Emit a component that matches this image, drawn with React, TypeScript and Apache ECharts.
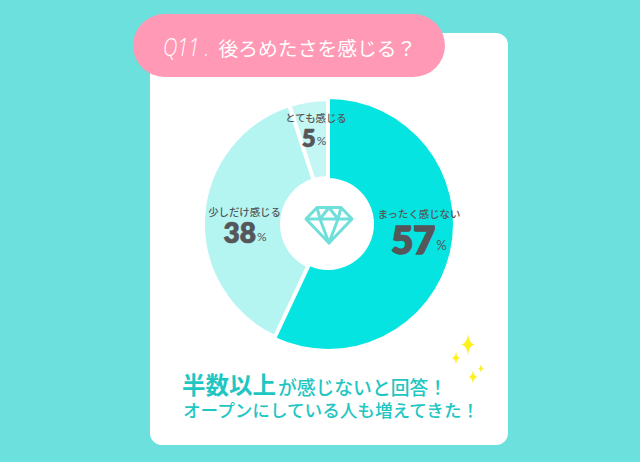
import React, { useEffect, useRef } from "react";
import * as echarts from "echarts";

const categories = ["まったく感じない", "少しだけ感じる", "とても感じる"];
const values = [57, 38, 5];
const sliceColors = ["#05e4e0", "#b4f5f2", "#c4f6f4"];
const titleQ = "Q11 .";
const titleText = "後ろめたさを感じる？";
const strong = "半数以上";
const line1 = "が感じないと回答！";
const line2 = "オープンにしている人も増えてきた！";

const CJK = '"Noto Sans CJK JP", "Noto Sans", sans-serif';
const DARK = "#55565a";
const TEAL = "#1fc6c2";

echarts.graphic.registerShape(
  "spark",
  echarts.graphic.extendPath(
    "M0 -10 C1 -3 3 -1 6.5 0 C3 1 1 3 0 10 C-1 3 -3 1 -6.5 0 C-3 -1 -1 -3 0 -10 Z",
    {}
  )
);

const labelPos = [
  { cx: 419, tx: 419, ty: 213, ny: 239, ns: 38, ps: 13, b: 1.4 },
  { cx: 245, tx: 244.5, ty: 211, ny: 232, ns: 28, ps: 12, b: 0.7 },
  { cx: 314, tx: 316, ty: 117, ny: 137, ns: 24, ps: 12, b: 0.6 },
];

function dataLabels() {
  const out: any[] = [];
  categories.forEach((c, i) => {
    const p = labelPos[i];
    out.push({
      type: "text",
      z: 10,
      style: {
        text: c,
        x: p.tx,
        y: p.ty,
        align: "center",
        verticalAlign: "middle",
        font: `500 10.4px ${CJK}`,
        fill: DARK,
      },
    });
    out.push({
      type: "text",
      z: 10,
      style: {
        text: `{n|${values[i]}}{p|%}`,
        x: p.cx,
        y: p.ny,
        align: "center",
        verticalAlign: "middle",
        rich: {
          n: {
            fontFamily: "Lato",
            fontWeight: 800,
            fontSize: p.ns,
            fill: DARK,
            stroke: DARK,
            lineWidth: p.b,
          },
          p: { fontFamily: "Lato", fontSize: p.ps, fill: DARK, padding: [p.ns * 0.3, 0, 0, 1] },
        },
      },
    });
  });
  return out;
}

export default function App() {
  const ref = useRef<HTMLDivElement>(null);
  useEffect(() => {
    document.body.style.margin = "0";
    const chart = echarts.init(ref.current!, null, { renderer: "svg" });
    const gemStyle = { stroke: "#6fdfda", lineWidth: 3, fill: "none", lineJoin: "round" };
    chart.setOption({
      animation: false,
      backgroundColor: "#6be0dc",
      series: [
        {
          type: "pie",
          center: [328, 224],
          radius: [46, 125],
          startAngle: 90,
          clockwise: true,
          silent: true,
          label: { show: false },
          labelLine: { show: false },
          z: 5,
          data: values.map((v, i) => ({
            name: categories[i],
            value: v,
            itemStyle: {
              color: sliceColors[i],
              borderColor: "#ffffff",
              borderWidth: i === 0 ? 0 : 4,
            },
          })),
        },
      ],
      graphic: {
        elements: [
          { type: "rect", z: -10, shape: { x: 150, y: 33, width: 358, height: 412, r: 12 }, style: { fill: "#ffffff" } },
          { type: "rect", z: -5, shape: { x: 133, y: 14, width: 312, height: 63, r: 31.5 }, style: { fill: "#ff99b5" } },
          {
            type: "text",
            z: 10,
            x: 163,
            y: 47,
            scaleX: 0.8,
            style: { text: titleQ, verticalAlign: "middle", font: `italic 300 25px "Open Sans", sans-serif`, fill: "#ffffff" },
          },
          {
            type: "text",
            z: 10,
            style: { text: titleText, x: 218.5, y: 47, verticalAlign: "middle", font: `400 19.8px ${CJK}`, fill: "#ffffff" },
          },
          ...dataLabels(),
          // diamond icon
          { type: "polygon", z: 10, shape: { points: [[317, 207.5], [341, 207.5], [352, 219], [329, 243], [306, 219]] }, style: gemStyle },
          { type: "polyline", z: 10, shape: { points: [[306, 219], [352, 219]] }, style: gemStyle },
          { type: "polyline", z: 10, shape: { points: [[317, 207.5], [320, 219], [329, 243], [338, 219], [341, 207.5]] }, style: gemStyle },
          { type: "polyline", z: 10, shape: { points: [[320, 219], [329, 207.5], [338, 219]] }, style: gemStyle },
          // sparkles
          { type: "spark", z: 10, x: 468, y: 344.5, scaleX: 1.05, scaleY: 1.05, style: { fill: "#fff11e" } },
          { type: "spark", z: 10, x: 456, y: 358, scaleX: 0.65, scaleY: 0.65, style: { fill: "#fff11e" } },
          { type: "spark", z: 10, x: 473, y: 377, scaleX: 0.7, scaleY: 0.7, style: { fill: "#fff11e" } },
          { type: "spark", z: 10, x: 481, y: 368.5, scaleX: 0.45, scaleY: 0.45, style: { fill: "#fff11e" } },
          // caption
          {
            type: "text",
            z: 10,
            style: { text: strong, x: 182, y: 384, verticalAlign: "middle", font: `700 23.5px ${CJK}`, fill: TEAL },
          },
          {
            type: "text",
            z: 10,
            style: { text: line1, x: 278, y: 386, verticalAlign: "middle", font: `500 18.8px ${CJK}`, fill: TEAL },
          },
          {
            type: "text",
            z: 10,
            style: { text: line2, x: 183, y: 409, verticalAlign: "middle", font: `500 17.6px ${CJK}`, fill: TEAL },
          },
        ],
      },
    });
    return () => chart.dispose();
  }, []);
  return <div ref={ref} style={{ width: 640, height: 462 }} />;
}
